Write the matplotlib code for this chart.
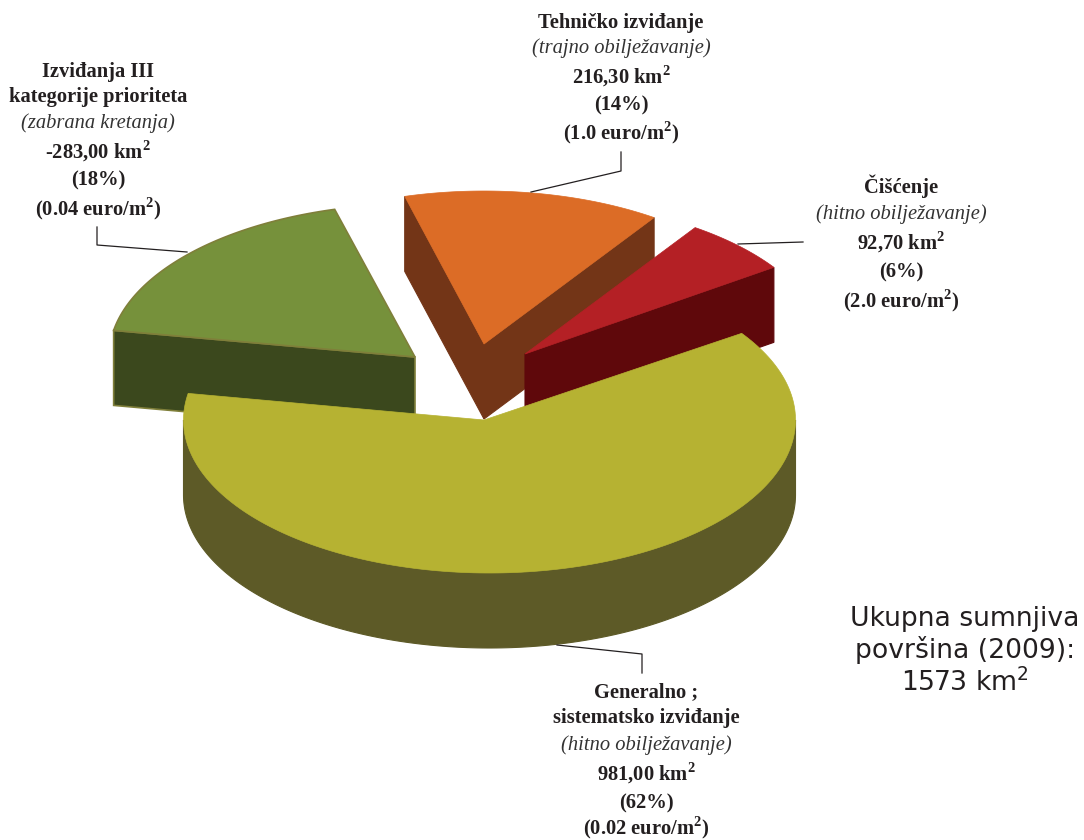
import numpy as np
import matplotlib
matplotlib.use('Agg')
from matplotlib import pyplot as plt
from matplotlib.patches import Polygon

plt.rcParams['font.family'] = ['Liberation Serif', 'DejaVu Sans']
plt.rcParams['mathtext.fontset'] = 'custom'
plt.rcParams['mathtext.bf'] = 'Liberation Serif:bold'
plt.rcParams['mathtext.rm'] = 'DejaVu Sans'

# areas in km2, going counter clockwise from the right
names = ['Cleared', 'Technical', 'Priority III', 'General']
areas = [92.70, 216.30, 283.00, 981.00]
top_colors = ['#b42025', '#dc6c26', '#76913b', '#b6b232']
side_colors = ['#5f080b', '#733517', '#3b481d', '#5d5a27']
edge_colors = ['#b42025', '#dc6c26', '#7f7f3a', '#b6b232']

labels_tech = ['Tehničko izviđanje', '(trajno obilježavanje)', '216,30 km$^{\\mathbf{2}}$', '(14%)', '(1.0 euro/m$^{\\mathbf{2}}$)']
labels_prio = ['Izviđanja III', 'kategorije prioriteta', '(zabrana kretanja)', '-283,00 km$^{\\mathbf{2}}$', '(18%)', '(0.04 euro/m$^{\\mathbf{2}}$)']
labels_clear = ['Čišćenje', '(hitno obilježavanje)', '92,70 km$^{\\mathbf{2}}$', '(6%)', '(2.0 euro/m$^{\\mathbf{2}}$)']
labels_gen = ['Generalno ;', 'sistematsko izviđanje', '(hitno obilježavanje)', '981,00 km$^{\\mathbf{2}}$', '(62%)', '(0.02 euro/m$^{\\mathbf{2}}$)']
labels_total = ['Ukupna sumnjiva', 'površina (2009):', '1573 km$^{\\mathrm{2}}$']

# pie geometry in image pixels
start_angle = 34.5
ry = 153
depth = 75
rim_centers = [(525, 354), (484, 344), (415, 357), (489.5, 420)]
apexes = [(525, 354), (484, 344), (415, 357), (484, 420)]
rxs = [302, 302, 306, 306]
ink = '#231f20'

fig = plt.figure(figsize=(10.84, 8.4), dpi=100)
ax = fig.add_axes([0, 0, 1, 1])
ax.set_xlim(0, 1084)
ax.set_ylim(840, 0)
ax.axis('off')


def rim(c, rx, t0, t1, n=200):
    t = np.radians(np.linspace(t0, t1, n))
    return np.column_stack([c[0] + rx * np.cos(t), c[1] - ry * np.sin(t)])


sweep = np.array(areas) / sum(areas) * 360
ends = start_angle + np.cumsum(sweep)
starts = ends - sweep

# back to front: green first, then orange, red and the big slice on top
for i in [2, 1, 0, 3]:
    t0, t1 = starts[i], ends[i]
    arc = rim(rim_centers[i], rxs[i], t0, t1)
    apex = np.array(apexes[i], dtype=float)
    down = np.array([0, depth])
    # cut faces, only the ones turned towards the viewer
    if np.sin(np.radians(t0 - 90)) < 0:
        quad = [apex, arc[0], arc[0] + down, apex + down]
        ax.add_patch(Polygon(quad, closed=True, fc=side_colors[i], ec=side_colors[i], lw=0.8))
    if np.sin(np.radians(t1 + 90)) < 0:
        quad = [apex, arc[-1], arc[-1] + down, apex + down]
        ax.add_patch(Polygon(quad, closed=True, fc=side_colors[i], ec=edge_colors[i] if i == 2 else side_colors[i], lw=1.2 if i == 2 else 0.8))
    # outer wall, only the front half of the rim shows
    a0, a1 = max(t0, 180), min(t1, 360)
    if a1 > a0:
        wall = rim(rim_centers[i], rxs[i], a0, a1)
        ax.add_patch(Polygon(np.vstack([wall, wall[::-1] + down]), closed=True, fc=side_colors[i], ec=side_colors[i], lw=0.8))
    ax.add_patch(Polygon(np.vstack([apex, arc]), closed=True, fc=top_colors[i], ec=edge_colors[i], lw=1.2 if i == 2 else 0.5, joinstyle='miter'))

# leader lines
leader = dict(color='#231f20', lw=0.9, zorder=1)
ax.plot([531, 621, 621], [192, 171, 152], **leader)
ax.plot([187, 97, 97], [252, 245, 227], **leader)
ax.plot([738, 803], [244, 242], **leader)
ax.plot([557, 642, 642], [645, 654, 673], **leader)


def stack(lines, x, ys, size=14.8):
    for line, y in zip(lines, ys):
        italic = line.startswith('(') and 'euro' not in line and '%' not in line
        ax.text(x, y, line, ha='center', va='baseline', color='#333333' if italic else ink,
                fontsize=size, style='italic' if italic else 'normal',
                fontweight='normal' if italic else 'bold')


stack(labels_tech, 621, [28, 53, 83, 110, 139])
stack(labels_prio, 98, [77, 102, 128, 158, 185, 215])
stack(labels_clear, 901, [193, 219, 249, 277, 307])
stack(labels_gen, 646, [697, 723, 750, 780, 808, 834])

# total
for line, y in zip(labels_total, [626, 658, 691]):
    ax.text(965, y, line, ha='center', va='baseline', color=ink, fontsize=19.2, family='DejaVu Sans')

fig.savefig('out.png', dpi=100)
